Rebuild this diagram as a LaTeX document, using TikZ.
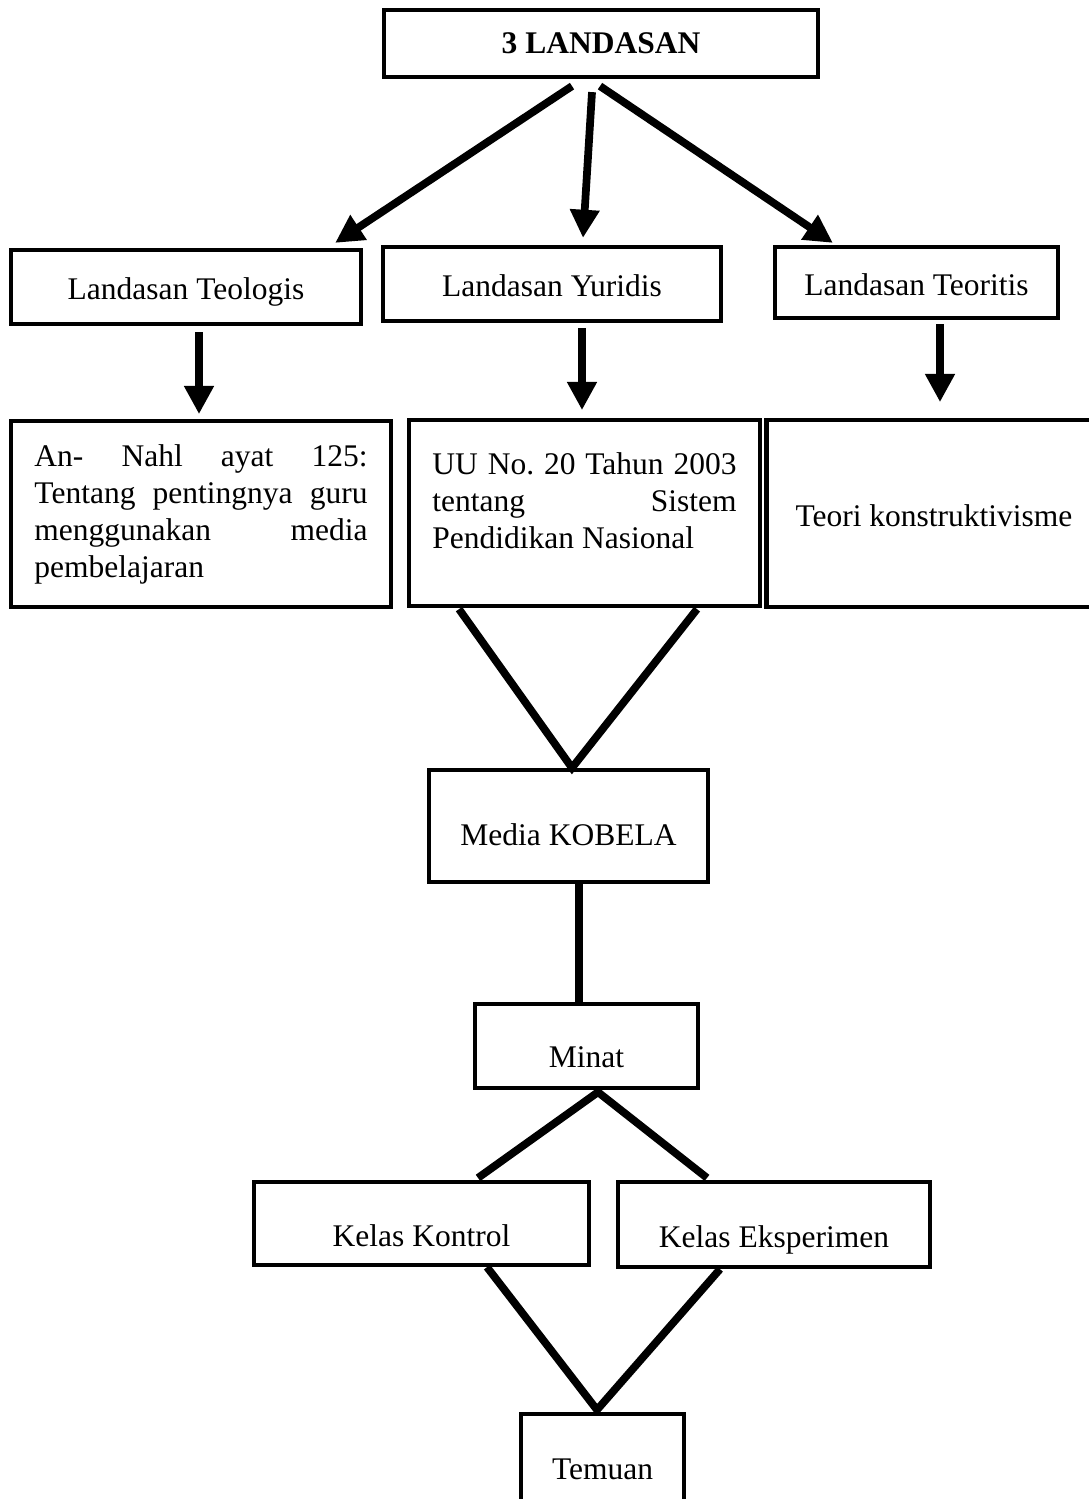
\documentclass[tikz,border=0pt]{standalone}
\usepackage{fontspec}
\setmainfont{Liberation Serif}
\usepackage{tikz}
\usetikzlibrary{arrows.meta,calc,positioning}
\frenchspacing
\tikzset{
  kf diagram/.style={x=0.025cm, y=-0.025cm, font=\fontsize{22.4pt}{26.3pt}\selectfont},
  kf box/.style={draw=black, line width=3pt, rectangle, inner sep=0pt, align=center},
  kf drop/.style={text height=#1, text depth=0pt},
  kf arrow/.style={-{Triangle[length=20pt,width=20pt]}, line width=5.5pt},
  kf link/.style={line width=5.5pt}
}

\begin{document}
\begin{tikzpicture}[kf diagram]
\useasboundingbox (0,0) rectangle (1088,1499);
\node[kf box, minimum width=10.85cm, minimum height=1.675cm] (top) at (601,43.5) {\textbf{3 LANDASAN}};
\node[kf box, kf drop=17.8pt, minimum width=8.75cm, minimum height=1.85cm] (teo) at (186,287) {Landasan Teologis};
\node[kf box, kf drop=17.8pt, minimum width=8.45cm, minimum height=1.85cm] (yur) at (552,284) {Landasan Yuridis};
\node[kf box, kf drop=18.5pt, minimum width=7.075cm, minimum height=1.775cm] (teor) at (916.5,282.5) {Landasan Teoritis};
\node[kf box, minimum width=9.5cm, minimum height=4.65cm, text width=8.325cm, align=justify] (nahl) at (201,514)
  {An- Nahl ayat 125:\linebreak Tentang pentingnya guru\linebreak menggunakan media\linebreak pembelajaran};
\node[kf box, minimum width=8.775cm, minimum height=4.65cm, text width=7.6cm, align=justify] (uu) at (584.5,513)
  {UU No. 20 Tahun 2003\linebreak tentang Sistem\linebreak Pendidikan Nasional\par\nointerlineskip\vbox to 0.6cm{}};
\node[kf box, kf drop=18.5pt, minimum width=8.375cm, minimum height=4.675cm] (kons) at (934,513.5) {Teori konstruktivisme};
\node[kf box, kf drop=27.7pt, minimum width=6.975cm, minimum height=2.8cm] (media) at (568.5,826) {Media KOBELA};
\node[kf box, kf drop=30.6pt, minimum width=5.575cm, minimum height=2.1cm] (minat) at (586.5,1046) {Minat};
\node[kf box, kf drop=32.7pt, minimum width=8.375cm, minimum height=2.075cm] (kontrol) at (421.5,1223.5) {Kelas Kontrol};
\node[kf box, kf drop=32.7pt, minimum width=7.8cm, minimum height=2.125cm] (eksp) at (774,1224.5) {Kelas Eksperimen};
\node[kf box, minimum width=4.075cm, minimum height=2.75cm] (temuan) at (602.5,1469) {Temuan};

\draw[kf arrow] ($(top.south)+(-29,7)$) -- ($(teo.north east)+(-28,-5)$);
\draw[kf arrow] ($(top.south)+(-9,13)$) -- ($(yur.north)+(31,-7)$);
\draw[kf arrow] ($(top.south)+(-1,7)$) -- ($(teor.north west)+(60,-2)$);
\draw[kf arrow] ($(teo.south)+(13,6)$) -- ($(teo.south)+(13,88)$);
\draw[kf arrow] ($(yur.south)+(30,5)$) -- ($(yur.south)+(30,87)$);
\draw[kf arrow] ($(teor.south)+(23.5,4)$) -- ($(teor.south)+(23.5,82)$);
\draw[kf link] ($(uu.south)+(-125.5,1)$) -- ($(media.north)+(3.5,0)$) -- ($(uu.south)+(112.5,1)$);
\draw[kf link] ($(media.south)+(10.5,0)$) -- ($(minat.north)+(-7.5,0)$);
\draw[kf link] ($(kontrol.north)+(56.5,-2)$) -- ($(minat.south)+(11.5,2)$) -- ($(eksp.north)+(-67,-2)$);
\draw[kf link] ($(kontrol.south)+(65.5,0)$) -- ($(temuan.north)+(-5.5,-2)$) -- ($(eksp.south)+(-54,0)$);
\end{tikzpicture}
\end{document}
